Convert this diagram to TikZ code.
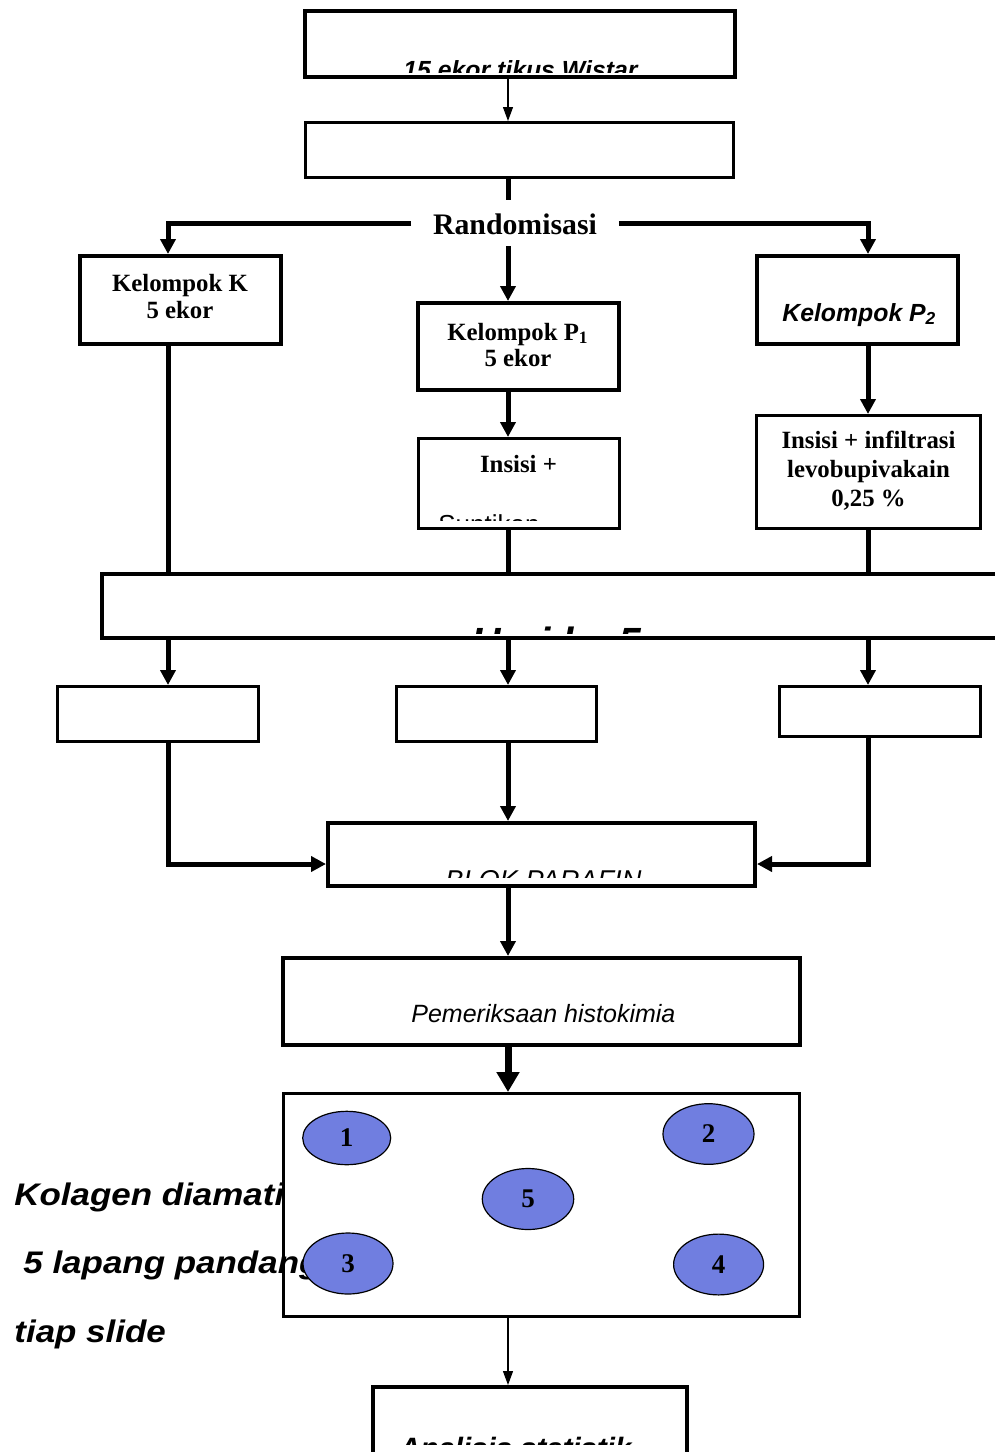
\documentclass[tikz,border=0pt]{standalone}
\usepackage{fontspec}
\setmainfont{Liberation Serif}
\setsansfont{Liberation Sans}
\usepackage{graphicx}
\usetikzlibrary{arrows.meta,shapes.geometric}
\definecolor{fieldblue}{RGB}{112,126,224}
\begin{document}
\begin{tikzpicture}[x=0.5pt,y=-0.5pt,
  bx/.style={draw,line width=2pt,fill=white,inner sep=0pt},
  bxt/.style={draw,line width=1.5pt,fill=white,inner sep=0pt},
  conn/.style={line width=2.5pt},
  carr/.style={line width=2.5pt,-{Triangle[width=7.5pt,length=7.5pt]}},
  barr/.style={line width=3.5pt,-{Triangle[width=11pt,length=10pt]}},
  tarr/.style={line width=0.6pt,-{Triangle[width=5pt,length=7pt]}},
  tnr/.style={font=\bfseries\fontsize{12.4}{14}\selectfont,inner sep=0pt,anchor=base},
  ari/.style={font=\sffamily\bfseries\itshape\fontsize{#1}{#1}\selectfont,inner sep=0pt,anchor=base west},
  arn/.style={font=\sffamily\itshape\fontsize{#1}{#1}\selectfont,inner sep=0pt,anchor=base west},
  ars/.style={font=\sffamily\fontsize{#1}{#1}\selectfont,inner sep=0pt,anchor=base west},
  fld/.style={ellipse,draw,line width=0.6pt,fill=fieldblue,inner sep=0pt,
    font=\bfseries\fontsize{13.5}{14}\selectfont}
]
\useasboundingbox (0,0) rectangle (995,1452);

% boxes
\node[bx,minimum width=215pt,minimum height=33pt] (top) at (520,43.5) {};
\node[bxt,minimum width=214pt,minimum height=27.5pt] (b2) at (519,150) {};
\node[bx,minimum width=100.5pt,minimum height=44pt] (K) at (180.5,300) {};
\node[bx,minimum width=100.5pt,minimum height=43.5pt] (P1) at (518.5,346.5) {};
\node[bx,minimum width=100.5pt,minimum height=44pt] (P2) at (857.5,300) {};
\node[bxt,minimum width=100.5pt,minimum height=45pt] (ins) at (519,483.5) {};
\node[bxt,minimum width=112pt,minimum height=56.5pt] (inf) at (868.5,472) {};
\node[bx,line width=2.2pt,minimum width=454pt,minimum height=32pt] (hari) at (556,606) {};
\node[bxt,minimum width=100.5pt,minimum height=27.5pt] (A) at (158,714) {};
\node[bxt,minimum width=100pt,minimum height=27.5pt] (B) at (496.5,714) {};
\node[bxt,minimum width=100.5pt,minimum height=25pt] (C) at (880,711.5) {};
\node[bx,minimum width=213.5pt,minimum height=31.5pt] (blok) at (541.5,854.5) {};
\node[bx,minimum width=258.5pt,minimum height=43.5pt] (pem) at (541.5,1001.5) {};
\node[bxt,minimum width=258pt,minimum height=111.5pt] (field) at (541.5,1205) {};
\node[bx,minimum width=157pt,minimum height=41.5pt] (ana) at (530,1428.5) {};

% left side text (over the field box, under the ellipses)
\node[ari=15.6] (kol1) at (14,1205) {\scalebox{1.12}[1]{Kolagen diamati}};
\node[ari=15.6] (kol2) at (23,1273) {\scalebox{1.12}[1]{5 lapang pandang}};
\node[ari=15.6] (kol3) at (14,1342) {\scalebox{1.12}[1]{tiap slide}};

% texts inside boxes (some clipped as in the original)
\begin{scope}
  \clip (307,12) rectangle (733,72);
  \node[ari=12.4] (ttop) at (403,78) {15 ekor tikus Wistar};
\end{scope}
\node[font=\bfseries\fontsize{14.9}{16}\selectfont,minimum width=103.5pt,minimum height=23pt,inner sep=0pt] (rand) at (515,223) {};
\node[font=\bfseries\fontsize{14.9}{16}\selectfont,inner sep=0pt,anchor=base] (randt) at (515,234) {Randomisasi};
\node[tnr] (tK1) at (180,291) {Kelompok K};
\node[tnr] (tK2) at (180,318) {5 ekor};
\node[tnr] (tP11) at (518,340) {Kelompok P\textsubscript{1}};
\node[tnr] (tP12) at (518,366) {5 ekor};
\node[ari=12.4] (tP2) at (782,321) {Kelompok P\textsubscript{2}};
\node[tnr] (tins) at (518.5,472) {Insisi +};
\begin{scope}
  \clip (420,440) rectangle (618,520);
  \node[ars=13] (tsun) at (438,533) {Suntikan};
\end{scope}
\node[tnr] (tinf1) at (868.5,448) {Insisi + infiltrasi};
\node[tnr] (tinf2) at (868.5,477) {levobupivakain};
\node[tnr] (tinf3) at (868.5,506) {0,25 \%};
\begin{scope}
  \clip (104,576) rectangle (995,633);
  \node[ari=20.4] (thari) at (471,656) {Hari ke 5};
\end{scope}
\begin{scope}
  \clip (330,825) rectangle (753,877);
  \node[arn=13.6] (tblok) at (445,889) {BLOK PARAFIN};
\end{scope}
\node[arn=12.5] (tpem) at (411,1022) {Pemeriksaan histokimia};
\begin{scope}
  \clip (375,1389) rectangle (685,1444);
  \node[ari=14.7] (tana) at (399,1458) {Analisis statistik};
\end{scope}

% fields of view
\node[fld,minimum width=44pt,minimum height=26.7pt] (f1) at (346.7,1138) {1};
\node[fld,minimum width=45.5pt,minimum height=30.3pt] (f2) at (708.5,1134) {2};
\node[fld,minimum width=45.7pt,minimum height=30.5pt] (f5) at (528,1199) {5};
\node[fld,minimum width=45pt,minimum height=30.5pt] (f3) at (348,1263.5) {3};
\node[fld,minimum width=45pt,minimum height=30.4pt] (f4) at (718.6,1264.5) {4};

% connectors
\coordinate (xL) at (168,0);
\coordinate (xM) at (508,0);
\coordinate (xR) at (868,0);
\coordinate (yB) at (0,864);
\draw[tarr] (top.south -| xM) -- (b2.north -| xM);
\draw[conn] (b2.south -| xM) -- (rand.north -| xM);
\draw[carr] (rand.west) -| (K.north -| xL);
\draw[carr] (rand.east) -| (P2.north -| xR);
\draw[carr] (rand.south -| xM) -- (P1.north -| xM);
\draw[carr] (P1.south -| xM) -- (ins.north -| xM);
\draw[carr] (P2.south -| xR) -- (inf.north -| xR);
\draw[conn] (K.south -| xL) -- (hari.north -| xL);
\draw[conn] (ins.south -| xM) -- (hari.north -| xM);
\draw[conn] (inf.south -| xR) -- (hari.north -| xR);
\draw[carr] (hari.south -| xL) -- (A.north -| xL);
\draw[carr] (hari.south -| xM) -- (B.north -| xM);
\draw[carr] (hari.south -| xR) -- (C.north -| xR);
\draw[carr] (A.south -| xL) |- (blok.west |- yB);
\draw[carr] (B.south -| xM) -- (blok.north -| xM);
\draw[carr] (C.south -| xR) |- (blok.east |- yB);
\draw[carr] (blok.south -| xM) -- (pem.north -| xM);
\draw[barr] (pem.south -| xM) -- (field.north -| xM);
\draw[tarr] (field.south -| xM) -- (ana.north -| xM);
\end{tikzpicture}
\end{document}
